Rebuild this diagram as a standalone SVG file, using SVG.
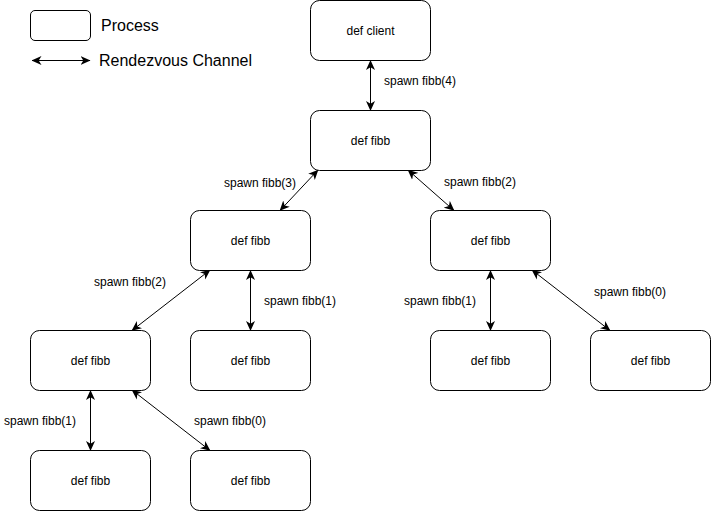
<svg xmlns="http://www.w3.org/2000/svg" width="711" height="511" viewBox="0 0 711 511">
<defs>
<marker id="arr" viewBox="0 0 10 10" refX="9.5" refY="5" markerWidth="10" markerHeight="10" markerUnits="userSpaceOnUse" orient="auto-start-reverse">
<path d="M0,0.5 L10,5 L0,9.5 L2.8,5 Z" fill="#000"/>
</marker>
<style>
.node rect{fill:#fff;stroke:#000;stroke-width:1}
.node text{font-family:"Liberation Sans",Arial,sans-serif;font-size:12px;fill:#000;text-anchor:middle;dominant-baseline:central}
.edge{stroke:#000;stroke-width:1;fill:none;marker-start:url(#arr);marker-end:url(#arr)}
.lbl{font-family:"Liberation Sans",Arial,sans-serif;font-size:12px;fill:#000;dominant-baseline:central}
.leg{font-family:"Liberation Sans",Arial,sans-serif;font-size:16px;fill:#000;dominant-baseline:central}
</style>
</defs>
<rect width="711" height="511" fill="#fff"/>
<g id="legend">
<rect x="30.5" y="10.5" width="60" height="30" rx="4.5" ry="4.5" fill="#fff" stroke="#000"/>
<text class="leg" x="101" y="25">Process</text>
<line class="edge" x1="32" y1="60.5" x2="90" y2="60.5"/>
<text class="leg" x="99" y="60">Rendezvous Channel</text>
</g>
<g id="connectors">
<line class="edge" x1="370.5" y1="60.5" x2="370.5" y2="110.5"/>
<line class="edge" x1="318" y1="170" x2="280" y2="210.5"/>
<line class="edge" x1="408" y1="170" x2="454" y2="210.5"/>
<line class="edge" x1="210" y1="270" x2="132" y2="330.5"/>
<line class="edge" x1="250.5" y1="270.5" x2="250.5" y2="330.5"/>
<line class="edge" x1="490.5" y1="270.5" x2="490.5" y2="330.5"/>
<line class="edge" x1="532" y1="270" x2="610" y2="330.5"/>
<line class="edge" x1="90.5" y1="390.5" x2="90.5" y2="450.5"/>
<line class="edge" x1="132" y1="390" x2="210" y2="450.5"/>
<text class="lbl" x="384" y="81">spawn fibb(4)</text>
<text class="lbl" x="224" y="183">spawn fibb(3)</text>
<text class="lbl" x="444" y="182">spawn fibb(2)</text>
<text class="lbl" x="94" y="282">spawn fibb(2)</text>
<text class="lbl" x="264" y="301">spawn fibb(1)</text>
<text class="lbl" x="404" y="301">spawn fibb(1)</text>
<text class="lbl" x="594" y="292">spawn fibb(0)</text>
<text class="lbl" x="4" y="421">spawn fibb(1)</text>
<text class="lbl" x="194" y="421">spawn fibb(0)</text>
</g>
<g id="client" class="node"><rect x="310.5" y="0.5" width="120" height="60" rx="9" ry="9"/><text x="370.5" y="30.5">def client</text></g>
<g id="fibb4" class="node"><rect x="310.5" y="110.5" width="120" height="60" rx="9" ry="9"/><text x="370.5" y="140.5">def fibb</text></g>
<g id="fibb3" class="node"><rect x="190.5" y="210.5" width="120" height="60" rx="9" ry="9"/><text x="250.5" y="240.5">def fibb</text></g>
<g id="fibb2r" class="node"><rect x="430.5" y="210.5" width="120" height="60" rx="9" ry="9"/><text x="490.5" y="240.5">def fibb</text></g>
<g id="fibb2l" class="node"><rect x="30.5" y="330.5" width="120" height="60" rx="9" ry="9"/><text x="90.5" y="360.5">def fibb</text></g>
<g id="fibb1m" class="node"><rect x="190.5" y="330.5" width="120" height="60" rx="9" ry="9"/><text x="250.5" y="360.5">def fibb</text></g>
<g id="fibb1r" class="node"><rect x="430.5" y="330.5" width="120" height="60" rx="9" ry="9"/><text x="490.5" y="360.5">def fibb</text></g>
<g id="fibb0r" class="node"><rect x="590.5" y="330.5" width="120" height="60" rx="9" ry="9"/><text x="650.5" y="360.5">def fibb</text></g>
<g id="fibb1l" class="node"><rect x="30.5" y="450.5" width="120" height="60" rx="9" ry="9"/><text x="90.5" y="480.5">def fibb</text></g>
<g id="fibb0l" class="node"><rect x="190.5" y="450.5" width="120" height="60" rx="9" ry="9"/><text x="250.5" y="480.5">def fibb</text></g>
</svg>
